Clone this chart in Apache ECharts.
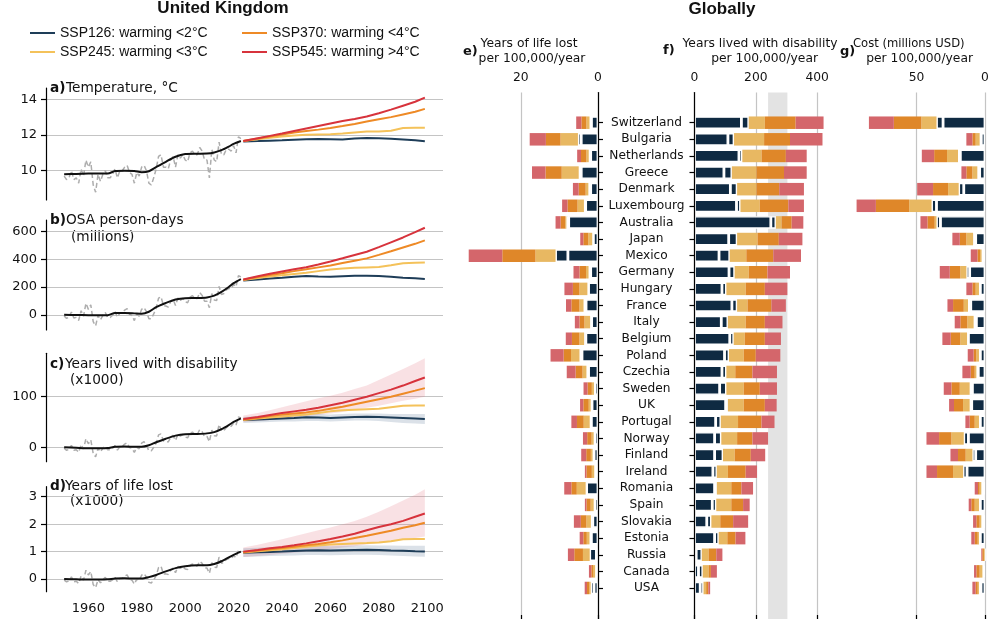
<!DOCTYPE html>
<html><head><meta charset="utf-8">
<script src="https://cdn.jsdelivr.net/npm/echarts@6/dist/echarts.min.js"></script>
<style>html,body{margin:0;padding:0;background:#fff}#c{width:1000px;height:619px}</style>
</head><body><div id="c"></div>
<script>
// ---------------- DATA ----------------
const scenarioNames = ['SSP126: warming <2°C','SSP245: warming <3°C','SSP370: warming <4°C','SSP545: warming >4°C'];
const xTickYears = [1960,1980,2000,2020,2040,2060,2080,2100];

const annualYears = [1950,1951,1952,1953,1954,1955,1956,1957,1958,1959,1960,1961,1962,1963,1964,1965,1966,1967,1968,1969,
1970,1971,1972,1973,1974,1975,1976,1977,1978,1979,1980,1981,1982,1983,1984,1985,1986,1987,1988,1989,
1990,1991,1992,1993,1994,1995,1996,1997,1998,1999,2000,2001,2002,2003,2004,2005,2006,2007,2008,2009,
2010,2011,2012,2013,2014,2015,2016,2017,2018,2019,2020,2021,2022,2023];
const tempAnnual = [9.7,9.5,9.6,10.0,9.5,9.6,9.3,10.1,9.7,10.6,10.2,10.5,9.2,8.8,9.8,9.4,9.8,10.0,9.6,9.6,
9.8,10.1,9.6,10.0,10.0,10.2,10.3,9.9,9.8,9.3,9.9,9.7,10.2,10.3,10.0,9.3,9.2,9.6,10.1,10.8,
10.9,10.2,10.2,10.1,10.6,10.8,10.2,10.9,10.7,10.9,10.6,10.5,11.0,11.1,10.9,10.9,11.3,11.1,10.6,10.6,
9.6,11.2,10.6,10.5,11.6,10.9,10.9,11.2,11.2,11.1,11.4,11.0,11.9,11.8];
const osaAnnual = [-9,-26,-17,20,-24,-19,-41,29,-11,83,39,72,-50,-80,-4,-36,-4,16,-20,-20,
-4,23,-18,12,12,34,44,3,-5,-42,5,-10,39,52,23,-28,-28,6,47,120,
130,67,63,55,94,113,67,122,103,118,95,87,127,138,117,117,161,140,97,98,
51,153,107,102,205,146,153,180,189,189,220,202,283,273];
const yldAnnual = [-2,-6,-4,4,-6,-5,-10,5.5,-3,17,7,14.5,-12,-19,-2,-9,-2,2.4,-5,-5,
-2,3.4,-5.6,1,1.2,6.3,8.8,-0.5,-2,-10,0,-3,8,11,4,-7,-7,0,8,24.5,
26.5,12.6,12,10.5,19,23.5,13.5,26,22,25.5,20.5,18.7,27.5,30,25,25.5,35,30.7,21,21.5,
11,34,23,22.5,45,32,33,39,41.6,41.5,48,44,60,58];
const yllAnnual = [-0.04,-0.1,-0.07,0.08,-0.1,-0.08,-0.16,0.11,-0.04,0.32,0.15,0.28,-0.2,-0.31,-0.02,-0.14,-0.02,0.06,-0.08,-0.08,
-0.03,0.06,-0.1,0.02,0.02,0.11,0.15,-0.01,-0.04,-0.18,0.0,-0.05,0.14,0.2,0.07,-0.12,-0.14,-0.03,0.12,0.42,
0.47,0.18,0.19,0.17,0.32,0.4,0.23,0.46,0.39,0.45,0.37,0.35,0.5,0.55,0.48,0.48,0.65,0.57,0.4,0.4,
0.21,0.6,0.43,0.42,0.8,0.58,0.6,0.71,0.75,0.74,0.85,0.78,1.05,1.05];

const histYears = [1950,1955,1960,1965,1968,1971,1975,1979,1982,1985,1988,1992,1996,2000,2005,2009,2012,2015,2018,2020,2023];
const tempSmooth = [9.8,9.82,9.84,9.85,9.84,9.98,10.0,9.98,9.92,9.97,10.2,10.5,10.78,10.93,10.95,10.96,11.02,11.15,11.35,11.5,11.66];
const osaSmooth = [0,-2,-3,-4,-3,12,12,10,8,22,55,85,110,120,121,125,138,165,200,228,258];
const yldSmooth = [0,-1,-2,-2,-1.5,1,1.5,1,1,4,10,17,23,26,26.5,27.5,30,36,44,50,57];
const yllSmooth = [0,-0.01,-0.02,-0.02,-0.01,0.02,0.03,0.02,0.02,0.07,0.15,0.28,0.4,0.47,0.5,0.5,0.55,0.65,0.79,0.88,1.0];

const projYears = [2024,2030,2035,2040,2045,2050,2055,2060,2065,2070,2075,2080,2085,2090,2095,2099];
const temp126 = [11.64,11.66,11.68,11.7,11.73,11.76,11.77,11.76,11.75,11.8,11.83,11.82,11.79,11.75,11.7,11.65];
const temp245 = [11.66,11.76,11.84,11.91,11.97,12.01,12.03,12.04,12.08,12.14,12.19,12.2,12.24,12.39,12.41,12.41];
const temp370 = [11.66,11.8,11.92,12.02,12.14,12.22,12.3,12.39,12.5,12.62,12.75,12.88,13.0,13.15,13.3,13.46];
const temp545 = [11.66,11.82,11.95,12.08,12.22,12.36,12.5,12.64,12.78,12.9,13.03,13.22,13.42,13.64,13.86,14.09];
const osa126 = [248,255,262,268,275,280,277,275,278,281,282,279,274,268,263,258];
const osa245 = [250,265,276,285,295,303,315,327,334,339,342,345,358,372,376,378];
const osa370 = [252,272,287,300,315,328,342,356,373,390,407,432,458,485,512,537];
const osa545 = [255,278,296,313,328,343,363,385,408,432,455,488,523,558,596,628];
const yld126 = [54,55,56,57,58,59.5,59,58,59,60,60.5,60,59,58,57,56];
const yld245 = [54,57,59,61,63,65,68,71,73,74,75,76,79,82,82.5,82.5];
const yld370 = [55,58,62,65,67,69,72,76,80,85,90,95,100,106,112,117];
const yld545 = [56,60,64,68,71,74,78,83,88,94,100,107,114,122,131,138];
const yld545Upper = [63,68,73,79,85,91,97,102,108,115,122,133,144,155,166,176];
const yld545Lower = [50,52,54,57,59,62,64,67,70,74,78,82,87,92,96,100];
const yld126Upper = [60,62,63,64,65,66,66,65,66,67,67,67,66,66,66,66];
const yld126Lower = [48,49,50,51,51,52,52,51,52,53,53,52,50,48,47,46];
const yll126 = [0.96,0.98,0.99,1.0,1.02,1.04,1.05,1.04,1.05,1.06,1.07,1.06,1.04,1.03,1.01,1.0];
const yll245 = [0.97,1.01,1.05,1.09,1.13,1.18,1.22,1.26,1.28,1.3,1.31,1.33,1.38,1.45,1.46,1.46];
const yll370 = [0.98,1.04,1.09,1.13,1.18,1.23,1.28,1.34,1.41,1.5,1.58,1.67,1.76,1.87,1.96,2.05];
const yll545 = [1.0,1.06,1.12,1.17,1.23,1.3,1.38,1.46,1.55,1.65,1.78,1.9,2.0,2.12,2.27,2.39];
const yll545Upper = [1.15,1.25,1.35,1.45,1.56,1.67,1.78,1.88,2.0,2.12,2.27,2.45,2.65,2.86,3.07,3.27];
const yll545Lower = [0.8,0.84,0.88,0.92,0.96,1.0,1.05,1.1,1.15,1.2,1.26,1.32,1.38,1.44,1.5,1.55];
const yll126Upper = [1.12,1.14,1.16,1.17,1.19,1.2,1.21,1.2,1.21,1.22,1.23,1.22,1.22,1.21,1.21,1.21];
const yll126Lower = [0.8,0.82,0.84,0.85,0.86,0.88,0.88,0.87,0.88,0.89,0.89,0.88,0.86,0.84,0.82,0.81];

const countries = ['Switzerland','Bulgaria','Netherlands','Greece','Denmark','Luxembourg','Australia','Japan','Mexico','Germany',
'Hungary','France','Italy','Belgium','Poland','Czechia','Sweden','UK','Portugal','Norway','Finland','Ireland','Romania','Spain',
'Slovakia','Estonia','Russia','Canada','USA'];
// cumulative totals read per country: base, SSP126, SSP245, SSP370, SSP545
const lostBase = [1.7,4.35,1.9,4.35,1.9,3.2,7.6,1.2,7.8,1.9,2.45,3.1,1.65,3.15,4.15,2.45,0.85,1.55,1.72,0.85,1.02,0.7,2.95,0.85,1.35,1.72,0.42,0.42,1.03];
const lost126 = [2.2,5.2,2.4,5.0,2.5,3.65,8.2,1.5,11.0,2.45,2.75,3.75,2.05,3.6,4.8,3.0,1.05,1.9,2.15,1.12,1.4,0.98,3.2,1.12,1.85,2.2,2.15,0.75,1.9];
const lost245 = [3.0,9.7,3.0,9.4,3.2,5.3,8.5,2.5,16.2,3.1,4.8,4.8,3.5,4.8,7.0,4.0,1.6,2.4,3.7,1.65,1.85,1.6,5.5,1.9,3.0,2.9,3.9,1.3,2.3];
const lost370 = [4.3,13.5,4.4,13.6,5.0,7.9,9.7,3.8,24.8,4.8,6.5,6.9,4.8,6.75,8.9,5.8,2.7,3.8,5.45,2.8,3.05,3.0,6.9,3.0,4.45,3.8,6.15,1.72,2.85];
const lost545 = [5.65,17.7,5.4,17.1,6.5,9.3,11.0,4.6,33.5,6.35,8.7,8.3,6.0,8.35,12.3,8.1,3.75,4.65,6.9,3.9,4.35,3.4,8.75,3.4,6.25,4.75,7.8,2.35,3.45];
const disBase = [153,109,145,96,117,137,249,111.5,80,112.6,89.6,122,87.4,115,98,89.6,82,101.6,69,65.6,65.6,60,65.6,58,40,65.6,5.5,13,18.6];
const dis126 = [177,129,156,122,139,150,265.6,139,115,131,104,139,109,128,112.6,104,104,109,86,87.4,93,73,73,71,55,79,24,27,29.5];
const dis245 = [229.5,227,218.6,202,202,213,284,205.5,169,177,167,173,167,164,160.7,133,160.7,160.7,142,139,131,109,120,120,84,107,46,46,38];
const dis370 = [330,311.5,298,292,276.5,306,317,275,257,238,229.5,251,229.5,229.5,200,189,213,229.5,218.6,189,183.6,167,153,158.5,126,134,71,53.5,45];
const dis545 = [421,417.5,366,366,357,357,355,352,347.5,311.5,303,298,287,282,280,269,269,268,261,240,230.6,204,191,180,175,166,91,73,51];
const costBase = [30.6,2.7,18,3.9,15.5,35.4,32.5,6.8,1.5,11.2,3.4,10.4,6.3,12.1,3.4,4.9,9.2,9.7,3.4,12.1,6.8,13.1,1.9,3.4,1.9,3.4,0,1.0,2.9];
const cost126 = [35.4,3.9,19.7,5.6,19.2,39,35.4,8.7,2.5,13.6,4.4,12.4,8.3,13.1,4.4,6.3,11.2,11.2,4.4,15.5,9.2,16,2.7,4.4,2.7,4.4,0.2,1.9,4.4];
const cost245 = [46.4,6.8,27.7,9.2,26.9,55.3,36.7,13.6,3.6,18,6.8,15.5,12.9,18,6.3,7.5,18.4,16,7.5,24.5,14.1,23.3,3.9,7.5,3.9,5.3,0.8,3.9,5.3];
const cost370 = [66.5,9.2,37.1,13.6,37.9,79.6,42,18.4,5.5,25.7,9.2,23.3,18,25,8.3,10.4,24.5,22.6,11.2,33.5,19.7,35,5.1,10,6.3,7.5,2.0,6.3,6.8];
const cost545 = [84.7,13.6,46.1,17.2,49.5,93.7,47.1,23.8,10.4,33,13.6,27.4,22.1,31.1,12.6,16.5,30.1,26.2,14.3,42.7,25.2,42.7,7.5,11.9,8.7,10,2.7,8.0,9.2];
const disBand = [240,303];

// ---------------- STYLE ----------------
const FONT = 'DejaVu Sans';
const lineColors = ['#1e3d58','#f4c25a','#ee8a26','#d7333c'];
const barColors = ['#0f2a42','#0f2a42','#e8b862','#df8729','#d4666b'];
const GRID_GRAY = '#c4c4c4';

function zip(xs, ys){ return xs.map((x,i)=>[x, ys[i]]); }

function bandSeries(gi, lower, upper, color){
  return {type:'custom', xAxisIndex:gi, yAxisIndex:gi, silent:true, z:1,
    data: projYears.map((y,i)=>[y, lower[i], upper[i]]),
    encode:{x:0, y:[1,2]},
    renderItem:(params, api)=>{
      if (params.dataIndex !== 0) return null;
      const pts = [];
      for (let i=0;i<projYears.length;i++) pts.push(api.coord([projYears[i], upper[i]]));
      for (let i=projYears.length-1;i>=0;i--) pts.push(api.coord([projYears[i], lower[i]]));
      return {type:'polygon', shape:{points:pts}, style:{fill:color}};
    }};
}

const grids=[], xAxes=[], yAxes=[], series=[];

const leftPanels = [
 {top:88, height:112, min:8.36, max:14.63, ticks:[10,12,14], annual:tempAnnual, smooth:tempSmooth, proj:[temp126,temp245,temp370,temp545], showX:false},
 {top:220, height:110, min:-110, max:684, ticks:[0,200,400,600], annual:osaAnnual, smooth:osaSmooth, proj:[osa126,osa245,osa370,osa545], showX:false},
 {top:353.3, height:108.4, min:-28.5, max:185.8, ticks:[0,100], annual:yldAnnual, smooth:yldSmooth, proj:[yld126,yld245,yld370,yld545], showX:false,
   bands:[{lower:yld545Lower, upper:yld545Upper, color:'rgba(228,120,130,0.22)'},{lower:yld126Lower, upper:yld126Upper, color:'rgba(90,120,150,0.22)'}]},
 {top:486.7, height:105, min:-0.46, max:3.365, ticks:[0,1,2,3], annual:yllAnnual, smooth:yllSmooth, proj:[yll126,yll245,yll370,yll545], showX:true,
   bands:[{lower:yll545Lower, upper:yll545Upper, color:'rgba(228,120,130,0.22)'},{lower:yll126Lower, upper:yll126Upper, color:'rgba(90,120,150,0.22)'}]}
];

leftPanels.forEach((p, gi)=>{
  grids.push({left:46, right:557, top:p.top, height:p.height});
  xAxes.push({type:'value', gridIndex:gi, min:1942.5, max:2106.5,
    axisLine:{show:false}, axisTick:{show:false, customValues:xTickYears}, splitLine:{show:false},
    axisLabel:{show:p.showX, customValues:xTickYears, margin:10, fontSize:13, color:'#111', fontFamily:FONT, formatter:(v)=>String(v)}});
  yAxes.push({type:'value', gridIndex:gi, min:p.min, max:p.max, position:'left',
    axisLine:{show:true, lineStyle:{color:'#000', width:1.2}},
    axisTick:{show:true, length:5, customValues:p.ticks, lineStyle:{color:'#000', width:1.2}},
    axisLabel:{customValues:p.ticks, margin:9, fontSize:13, color:'#111', fontFamily:FONT, formatter:(v)=>String(v)},
    splitLine:{show:true, lineStyle:{color:GRID_GRAY, width:1.2}}});
  if (p.bands) p.bands.forEach(b=>series.push(bandSeries(gi, b.lower, b.upper, b.color)));
  series.push({type:'line', xAxisIndex:gi, yAxisIndex:gi, symbol:'none', silent:true,
    lineStyle:{color:'#adadad', width:1.5, type:[5,3]}, data:zip(annualYears, p.annual)});
  series.push({type:'line', xAxisIndex:gi, yAxisIndex:gi, symbol:'none', silent:true, smooth:0.25,
    lineStyle:{color:'#111', width:2}, data:zip(histYears, p.smooth)});
  p.proj.forEach((arr,k)=>{
    series.push({type:'line', name:scenarioNames[k], xAxisIndex:gi, yAxisIndex:gi, symbol:'none', silent:true,
      color:lineColors[k], lineStyle:{color:lineColors[k], width:2}, data:zip(projYears, arr)});
  });
});

const rightPanels = [
 {left:461, right:402, max:35.5, inverse:true, ticks:[0,20], data:[lostBase,lost126,lost245,lost370,lost545], yPos:'right', axisLine:true, labels:false, ticksY:true},
 {left:694.5, right:170, max:442, inverse:false, ticks:[0,200,400], data:[disBase,dis126,dis245,dis370,dis545], yPos:'left', axisLine:true, labels:true, ticksY:true, band:disBand},
 {left:850, right:15, max:98.5, inverse:true, ticks:[0,50], data:[costBase,cost126,cost245,cost370,cost545], yPos:'right', axisLine:false, labels:false, ticksY:false}
];

rightPanels.forEach((p,k)=>{
  const ga = grids.length, gb = ga+1;
  grids.push({left:p.left, right:p.right, top:92.5, bottom:0});
  grids.push({left:p.left, right:p.right, top:114.4, bottom:22.7});
  xAxes.push({type:'value', gridIndex:ga, position:'top', min:0, max:p.max, inverse:p.inverse,
    axisLine:{show:true, lineStyle:{color:'#000', width:1.2}},
    axisTick:{show:true, length:4, customValues:p.ticks, lineStyle:{color:'#000', width:1.2}},
    axisLabel:{customValues:p.ticks, margin:9, fontSize:12.3, color:'#111', fontFamily:FONT},
    splitLine:{show:true, lineStyle:{color:GRID_GRAY, width:1.2}}});
  xAxes.push({type:'value', gridIndex:gb, min:0, max:p.max, inverse:p.inverse, show:false});
  yAxes.push({type:'value', gridIndex:ga, min:0, max:1, position:p.yPos, z:3,
    axisLine:{show:p.axisLine, lineStyle:{color:'#000', width:1.2}},
    axisTick:{show:false}, axisLabel:{show:false}, splitLine:{show:false}});
  yAxes.push({type:'category', gridIndex:gb, data:countries, inverse:true, position:p.yPos, show:p.ticksY,
    axisLine:{show:false},
    axisTick:{show:p.ticksY, alignWithLabel:true, length:5, lineStyle:{color:'#000', width:1.2}},
    axisLabel:{show:p.labels, align:'center', margin:48, fontSize:12.2, color:'#111', fontFamily:FONT}});
  if (p.band) {
    series.push({type:'line', xAxisIndex:ga, yAxisIndex:ga, data:[], silent:true,
      markArea:{silent:true, itemStyle:{color:'#e3e3e3'}, data:[[{xAxis:p.band[0]},{xAxis:p.band[1]}]]}});
  }
  p.data.forEach((arr,s)=>{
    const inc = arr.map((v,i)=> s===0 ? v : v - p.data[s-1][i]);
    series.push({type:'bar', xAxisIndex:gb, yAxisIndex:gb, stack:'st'+k, barWidth:12.5, silent:true,
      itemStyle: s<2 ? {color:barColors[s], borderColor:'#fff', borderWidth:1.4} : {color:barColors[s]},
      data:inc});
  });
});

const legendBase = {orient:'horizontal', icon:'rect', itemWidth:25, itemHeight:2, padding:0, selectedMode:false,
  textStyle:{fontSize:14, fontFamily:'Liberation Sans', color:'#111'}};
const legends = [
  {data:[scenarioNames[0]], left:30, top:26},
  {data:[scenarioNames[1]], left:30, top:45},
  {data:[scenarioNames[2]], left:242, top:26},
  {data:[scenarioNames[3]], left:242, top:45}
].map(l=>Object.assign({}, legendBase, l));

function txt(x, y, text, font, align){
  return {type:'text', x:x, y:y, silent:true, style:{text:text, font:font, fill:'#111',
    align:align||'left', verticalAlign:'middle', textAlign:align||'left', textVerticalAlign:'middle'}};
}
const F1 = '13.7px "DejaVu Sans"', FB = 'bold 13.7px "DejaVu Sans"';
const F2 = '12.3px "DejaVu Sans"', FB2 = 'bold 13px "DejaVu Sans"';
const graphics = [
  txt(223, 8, 'United Kingdom', 'bold 17px "Liberation Sans"', 'center'),
  txt(722, 9, 'Globally', 'bold 17px "Liberation Sans"', 'center'),
  txt(50, 88, 'a)', FB), txt(66, 88, 'Temperature, °C', F1),
  txt(50, 220, 'b)', FB), txt(66, 220, 'OSA person-days', F1), txt(71, 237.3, '(millions)', F1),
  txt(50, 364, 'c)', FB), txt(65, 364, 'Years lived with disability', F1), txt(70, 380, '(x1000)', F1),
  txt(50, 486.7, 'd)', FB), txt(65, 486.7, 'Years of life lost', F1), txt(70, 501.7, '(x1000)', F1),
  txt(463, 52, 'e)', FB2), txt(529, 44, 'Years of life lost', F2, 'center'), txt(532, 58.6, 'per 100,000/year', F2, 'center'),
  txt(663, 51, 'f)', FB2), txt(760, 44, 'Years lived with disability', F2, 'center'), txt(764.6, 58.6, 'per 100,000/year', F2, 'center'),
  txt(840, 52, 'g)', FB2), txt(853, 44, 'Cost (millions USD)', '11.6px "DejaVu Sans"'), txt(919.6, 58.6, 'per 100,000/year', F2, 'center')
];

const chart = echarts.init(document.getElementById('c'));
chart.setOption({
  animation:false,
  backgroundColor:'#fff',
  textStyle:{fontFamily:FONT},
  legend:legends,
  grid:grids, xAxis:xAxes, yAxis:yAxes, series:series,
  graphic:graphics
});
</script>
</body></html>
